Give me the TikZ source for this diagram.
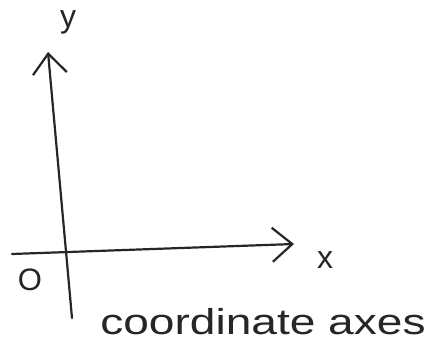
\documentclass[tikz,border=0pt]{standalone}
\usepackage{fontspec}
\setmainfont{Liberation Sans}
\usetikzlibrary{arrows.meta}

\begin{document}
\begin{tikzpicture}[
  x=1pt, y=-1pt,
  axisLine/.style   ={line width=2.2pt, line cap=round, black!85},
  axisArrow/.style  ={axisLine, -{Straight Barb[length=20pt, width=34pt, line width=2.2pt]}},
  axisLabel/.style  ={font=\fontsize{32}{34}\selectfont, inner sep=0pt, black!85},
  originLabel/.style={font=\fontsize{31}{33}\selectfont, inner sep=0pt, black!85},
  captionText/.style={font=\fontsize{36}{38}\selectfont, inner sep=0pt, black!85, xscale=1.28, transform shape}
]
\useasboundingbox (0,0) rectangle (432,348);

% ================== AXES ==================
\coordinate (yBot)   at (72,318);
\coordinate (yTop)   at (48,52);
\coordinate (xLeft)  at (12,254);
\coordinate (xRight) at (294,244);

\draw[axisArrow] (yBot) -- (yTop);
\draw[axisArrow] (xLeft) -- (xRight);

% ================== LABELS ==================
\node[axisLabel]   (ylab) at (68,22)  {y};
\node[axisLabel]   (xlab) at (325,260) {x};
\node[originLabel] (O)    at (30,280) {O};

\node[captionText] (caption) at (263,322) {coordinate axes};

\end{tikzpicture}
\end{document}
